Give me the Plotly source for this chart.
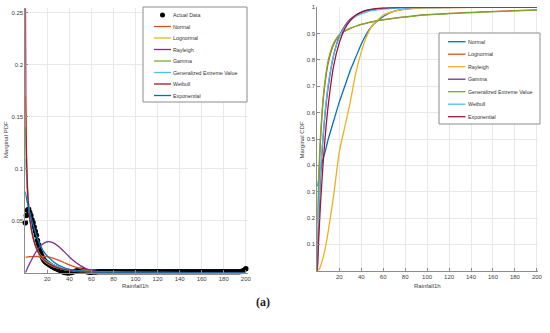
import plotly.graph_objects as go

# ---------------- data ----------------
# Left panel: marginal PDFs
PDF_X = [0, 0.5, 1, 2, 3, 4, 5, 6, 8, 10, 12, 15, 20, 25, 30, 35, 40, 45, 50, 55, 60, 70, 80, 100, 150, 200]
PDF_NORMAL = [0.015, 0.015, 0.015, 0.0152, 0.0153, 0.0154, 0.0155, 0.0155, 0.0156, 0.0156, 0.0156, 0.0156, 0.0155,
              0.014, 0.012, 0.0098, 0.0075, 0.0055, 0.004, 0.0026, 0.0015, 0.0005, 0.0001, 0, 0, 0]
PDF_LOGNORMAL = [0.17, 0.15, 0.12, 0.085, 0.066, 0.054, 0.045, 0.038, 0.029, 0.023, 0.0185, 0.0135, 0.0088, 0.006,
                 0.0043, 0.0032, 0.0024, 0.0019, 0.0015, 0.0012, 0.001, 0.0007, 0.0005, 0.0003, 0.0001, 0.00005]
PDF_RAYLEIGH = [0, 0.001, 0.0022, 0.0045, 0.0068, 0.009, 0.011, 0.013, 0.017, 0.0205, 0.0235, 0.027, 0.0298, 0.029,
                0.0255, 0.0205, 0.0152, 0.0105, 0.0068, 0.004, 0.0022, 0.0006, 0.0001, 0, 0, 0]
PDF_GAMMA = [0.14, 0.12, 0.10, 0.078, 0.064, 0.054, 0.046, 0.040, 0.031, 0.025, 0.020, 0.015, 0.0098, 0.0066, 0.0045,
             0.003, 0.002, 0.0014, 0.0009, 0.0006, 0.0004, 0.0002, 0.0001, 0, 0, 0]
PDF_GEV = [0.11, 0.105, 0.095, 0.078, 0.066, 0.056, 0.048, 0.041, 0.031, 0.024, 0.0195, 0.015, 0.011, 0.008, 0.0055,
           0.004, 0.003, 0.0022, 0.0017, 0.0013, 0.001, 0.0006, 0.0004, 0.0002, 0.0001, 0.00005]
PDF_WEIBULL = [0.30, 0.16, 0.115, 0.08, 0.064, 0.053, 0.045, 0.039, 0.030, 0.024, 0.0195, 0.0145, 0.0095, 0.0065,
               0.0045, 0.0032, 0.0022, 0.0016, 0.0011, 0.0008, 0.0005, 0.0003, 0.0001, 0, 0, 0]
PDF_EXPONENTIAL = [0.078, 0.075, 0.072, 0.067, 0.062, 0.058, 0.054, 0.05, 0.043, 0.036, 0.030, 0.023, 0.016, 0.011,
                   0.0073, 0.005, 0.0033, 0.0022, 0.0015, 0.001, 0.0007, 0.0003, 0.0001, 0, 0, 0]

# Actual data (kernel density points)
DATA_X = list(range(0, 41)) + list(range(42, 201, 2))
DATA_Y = [0.048, 0.055, 0.060, 0.061, 0.058, 0.055, 0.051, 0.048, 0.044, 0.040,
          0.036, 0.031, 0.027, 0.023, 0.019, 0.016, 0.014, 0.012, 0.0108, 0.0098,
          0.009, 0.0083, 0.0076, 0.007, 0.0063, 0.0057, 0.0051, 0.0046, 0.004, 0.0035,
          0.003, 0.0025, 0.002, 0.0015, 0.001, 0.0006, 0.0003, 0.0001, 0.0, 0.0, 0.0,
          0.0002, 0.0008, 0.0016, 0.0022, 0.0024, 0.002, 0.0014, 0.0008, 0.0005, 0.0005, 0.0006, 0.0007, 0.0008,
          0.0009, 0.0009, 0.0009, 0.0009, 0.0009, 0.0009, 0.0009, 0.0009, 0.0009, 0.0009, 0.0009, 0.0009,
          0.0009, 0.0009, 0.0009, 0.0009, 0.0009, 0.0009, 0.0009, 0.0009, 0.0009, 0.0009, 0.0009, 0.0009,
          0.0009, 0.0009, 0.0009, 0.0009, 0.0009, 0.0009, 0.0009, 0.0009, 0.0009, 0.0009, 0.0009, 0.0009,
          0.0009, 0.0009, 0.0009, 0.0009, 0.0009, 0.0009, 0.0009, 0.0009, 0.0009, 0.0009, 0.0009, 0.0009,
          0.0009, 0.0009, 0.0009, 0.0009, 0.0009, 0.0009, 0.0009, 0.0009, 0.0009, 0.0009, 0.0009, 0.0009,
          0.0009, 0.0009, 0.0009, 0.0009,
          0.0012, 0.0022, 0.0038]

# Right panel: marginal CDFs
CDF_X = [0, 1, 2, 3, 5, 7, 10, 15, 20, 25, 30, 35, 40, 45, 50, 60, 70, 80, 100, 150, 200]
CDF_NORMAL = [0.32, 0.34, 0.36, 0.38, 0.42, 0.45, 0.50, 0.57, 0.64, 0.70, 0.76, 0.81, 0.86, 0.90, 0.93, 0.965,
              0.985, 0.993, 0.999, 1.0, 1.0]
CDF_LOGNORMAL = [0, 0.25, 0.40, 0.50, 0.63, 0.71, 0.79, 0.86, 0.895, 0.91, 0.92, 0.928, 0.935, 0.94, 0.945, 0.953,
                 0.959, 0.964, 0.972, 0.983, 0.99]
CDF_RAYLEIGH = [0, 0.002, 0.008, 0.018, 0.045, 0.08, 0.15, 0.29, 0.45, 0.545, 0.64, 0.75, 0.83, 0.89, 0.93, 0.97,
                0.985, 0.993, 0.998, 1.0, 1.0]
CDF_GAMMA = [0, 0.15, 0.27, 0.36, 0.49, 0.59, 0.70, 0.82, 0.89, 0.93, 0.955, 0.97, 0.98, 0.987, 0.991, 0.996,
             0.998, 0.999, 1.0, 1.0, 1.0]
CDF_GEV = [0.18, 0.33, 0.44, 0.52, 0.64, 0.72, 0.80, 0.865, 0.895, 0.91, 0.92, 0.928, 0.935, 0.94, 0.945, 0.952,
           0.958, 0.963, 0.971, 0.982, 0.989]
CDF_WEIBULL = [0, 0.2, 0.3, 0.38, 0.5, 0.6, 0.71, 0.82, 0.885, 0.925, 0.95, 0.965, 0.975, 0.982, 0.987, 0.993,
               0.996, 0.998, 0.999, 1.0, 1.0]
CDF_EXPONENTIAL = [0, 0.095, 0.18, 0.26, 0.39, 0.50, 0.63, 0.78, 0.865, 0.918, 0.95, 0.97, 0.982, 0.989, 0.993,
                   0.9975, 0.999, 1.0, 1.0, 1.0, 1.0]

PDF_NAMES = ["Normal", "Lognormal", "Rayleigh", "Gamma", "Generalized Extreme Value", "Weibull", "Exponential"]
PDF_SERIES = [PDF_NORMAL, PDF_LOGNORMAL, PDF_RAYLEIGH, PDF_GAMMA, PDF_GEV, PDF_WEIBULL, PDF_EXPONENTIAL]
CDF_SERIES = [CDF_NORMAL, CDF_LOGNORMAL, CDF_RAYLEIGH, CDF_GAMMA, CDF_GEV, CDF_WEIBULL, CDF_EXPONENTIAL]

X_TICKS = [20, 40, 60, 80, 100, 120, 140, 160, 180, 200]
PDF_TICKS = [0.05, 0.1, 0.15, 0.2, 0.25]
CDF_TICKS = [0.1, 0.2, 0.3, 0.4, 0.5, 0.6, 0.7, 0.8, 0.9, 1]

# ---------------- styling ----------------
MATLAB = ["#0072BD", "#D95319", "#EDB120", "#7E2F8E", "#77AC30", "#4DBEEE", "#A2142F"]
PDF_COLORS = MATLAB[1:] + MATLAB[:1]
CDF_COLORS = MATLAB
W, H = 550, 333
FONT = "Liberation Sans"
TXT = "#404040"


def px(x):
    return x / W


def py(y):
    return 1 - y / H


fig = go.Figure()

fig.add_trace(go.Scatter(x=DATA_X, y=DATA_Y, mode="markers", name="Actual Data",
                         marker=dict(color="black", size=5.5), cliponaxis=False,
                         xaxis="x", yaxis="y", showlegend=False))
for name, ys, col in zip(PDF_NAMES, PDF_SERIES, PDF_COLORS):
    fig.add_trace(go.Scatter(x=PDF_X, y=ys, mode="lines", name=name,
                             line=dict(color=col, width=1.3, shape="spline", smoothing=0.6),
                             xaxis="x", yaxis="y", showlegend=False))
for name, ys, col in zip(PDF_NAMES, CDF_SERIES, CDF_COLORS):
    fig.add_trace(go.Scatter(x=CDF_X, y=ys, mode="lines", name=name,
                             line=dict(color=col, width=1.3, shape="spline", smoothing=0.6),
                             xaxis="x2", yaxis="y2", showlegend=False))

axis_common = dict(showgrid=True, gridcolor="#e8e8e8", gridwidth=1, zeroline=False, showline=True,
                   linecolor="#8c8c8c", linewidth=1, ticks="inside", ticklen=3, tickcolor="#8c8c8c",
                   tickfont=dict(family=FONT, size=6, color=TXT), mirror=False, automargin=False)

fig.update_layout(
    width=W, height=H, paper_bgcolor="white", plot_bgcolor="white",
    margin=dict(l=0, r=0, t=0, b=0, autoexpand=False), showlegend=False,
    font=dict(family=FONT, size=6, color=TXT),
    xaxis=dict(domain=[px(25.3), px(248)], range=[0, 202], tickvals=X_TICKS, anchor="y", **axis_common),
    yaxis=dict(domain=[py(272.7), py(8.3)], range=[0, 0.2545], tickvals=PDF_TICKS,
               ticktext=["0.05", "0.1", "0.15", "0.2", "0.25"], anchor="x", **axis_common),
    xaxis2=dict(domain=[px(317.3), px(538)], range=[0, 201], tickvals=X_TICKS, anchor="y2", **axis_common),
    yaxis2=dict(domain=[py(270.7), py(7.3)], range=[0, 1], tickvals=CDF_TICKS,
                ticktext=[str(t) for t in CDF_TICKS], anchor="x2", **axis_common),
)

# ---------------- hand-drawn legends (compact, MATLAB-like) ----------------
shapes = []
annotations = []


def legend_box(x0, y0, x1, y1, entries, line_x0, line_x1, text_x, first_y, step):
    shapes.append(dict(type="rect", xref="paper", yref="paper", x0=px(x0), x1=px(x1), y0=py(y1), y1=py(y0),
                       line=dict(color="#8c8c8c", width=1), fillcolor="white", layer="above"))
    for i, (label, col, kind) in enumerate(entries):
        yy = first_y + i * step
        if kind == "dot":
            cx = (line_x0 + line_x1) / 2
            shapes.append(dict(type="circle", xref="paper", yref="paper", x0=px(cx - 2.5), x1=px(cx + 2.5),
                               y0=py(yy + 2.5), y1=py(yy - 2.5), fillcolor="black",
                               line=dict(color="black", width=0), layer="above"))
        else:
            shapes.append(dict(type="line", xref="paper", yref="paper", x0=px(line_x0), x1=px(line_x1),
                               y0=py(yy), y1=py(yy), line=dict(color=col, width=1.3), layer="above"))
        annotations.append(dict(x=px(text_x), y=py(yy), xref="paper", yref="paper", text=label, showarrow=False,
                                xanchor="left", yanchor="middle", borderpad=0,
                                font=dict(family=FONT, size=5.3, color="#333333")))


left_entries = [("Actual Data", "black", "dot")] + [(n, c, "line") for n, c in zip(PDF_NAMES, PDF_COLORS)]
right_entries = [(n, c, "line") for n, c in zip(PDF_NAMES, CDF_COLORS)]
legend_box(143, 7, 247, 102, left_entries, 154, 171, 172, 15, 11.5)
legend_box(439, 33, 540, 124, right_entries, 448, 465.5, 466.5, 41.7, 12.5)

# axis titles
title_font = dict(family=FONT, size=6, color=TXT)
for (x, y, text, angle) in [(6, 140, "Marginal PDF", -90), (301.5, 140, "Marginal CDF", -90),
                            (135, 286, "Rainfall1h", 0), (427.5, 286, "Rainfall1h", 0)]:
    annotations.append(dict(x=px(x), y=py(y), xref="paper", yref="paper", text=text, showarrow=False,
                            xanchor="center", yanchor="middle", textangle=angle, font=title_font))

annotations.append(dict(x=px(263), y=py(302), xref="paper", yref="paper", text="<b>(a)</b>", showarrow=False,
                        xanchor="center", yanchor="middle",
                        font=dict(family="Liberation Serif", size=12, color="#222222")))

fig.update_layout(shapes=shapes, annotations=annotations)
fig.write_html("out.html", config={"displayModeBar": False},
               post_script="document.body.style.margin='0';document.body.style.padding='0';")
